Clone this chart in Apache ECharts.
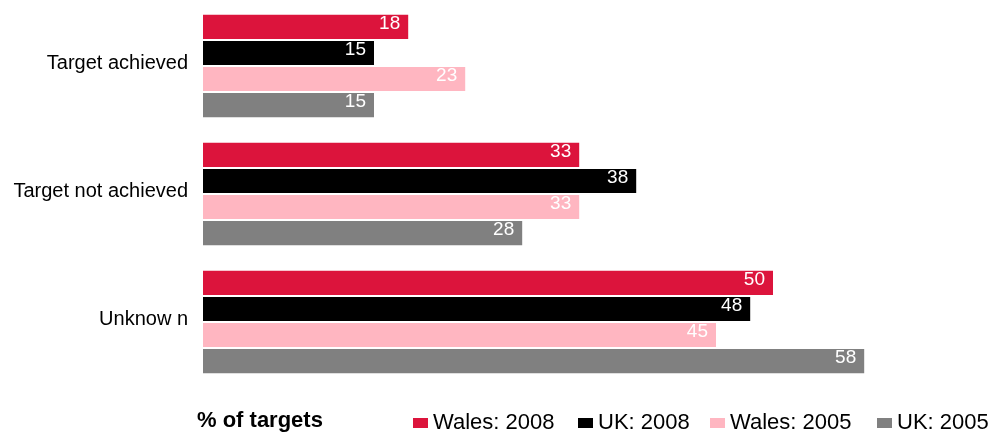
<!DOCTYPE html>
<html>
<head>
<meta charset="utf-8">
<script src="https://cdn.jsdelivr.net/npm/echarts@6/dist/echarts.min.js"></script>
<style>
  html, body { margin: 0; padding: 0; background: #fff; }
  #chart { width: 999px; height: 432px; }
</style>
</head>
<body>
<div id="chart"></div>
<script>
// Outcome categories (top to bottom)
const categories = ['Target achieved', 'Target not achieved', 'Unknow n'];

// Percentage of targets per outcome
const wales2008 = [18, 33, 50];
const uk2008 = [15, 38, 48];
const wales2005 = [23, 33, 45];
const uk2005 = [15, 28, 58];

const seriesNames = ['Wales: 2008', 'UK: 2008', 'Wales: 2005', 'UK: 2005'];
const seriesData = [wales2008, uk2008, wales2005, uk2005];
const seriesColors = ['#DC143C', '#000000', '#FFB6C1', '#808080'];

const FONT = 'Liberation Sans, Arial, sans-serif';

const chart = echarts.init(document.getElementById('chart'), null, { renderer: 'canvas' });

const series = seriesNames.map((name, i) => ({
  name: name,
  type: 'bar',
  data: seriesData[i],
  barGap: '8%',
  barCategoryGap: '20%',
  itemStyle: { color: seriesColors[i] },
  label: {
    show: true,
    position: 'insideTopRight',
    distance: 0,
    offset: [-8, -1],
    color: '#ffffff',
    fontFamily: FONT,
    fontSize: 19
  },
  emphasis: { disabled: true },
  animation: false
}));

// One legend block per series so each entry sits at its own spot
const legendLefts = [408, 573, 705, 872];
const legends = seriesNames.map((name, i) => ({
  data: [name],
  left: legendLefts[i],
  top: 407,
  itemWidth: 15,
  itemHeight: 10,
  itemGap: 6,
  icon: 'rect',
  selectedMode: false,
  textStyle: { fontFamily: FONT, fontSize: 22, color: '#000', padding: [0, 0, 0, 0] }
}));

chart.setOption({
  backgroundColor: '#ffffff',
  animation: false,
  title: {
    text: '% of targets',
    left: 192,
    top: 405,
    textStyle: { fontFamily: FONT, fontSize: 22, fontWeight: 'bold', color: '#000' }
  },
  legend: legends,
  grid: { left: 203, right: 112, top: 2, bottom: 46, containLabel: false },
  xAxis: {
    type: 'value',
    min: 0,
    max: 60,
    show: false
  },
  yAxis: {
    type: 'category',
    data: categories,
    inverse: true,
    axisLine: { show: false },
    axisTick: { show: false },
    splitLine: { show: false },
    axisLabel: {
      margin: 15,
      color: '#000',
      formatter: (v) => '{c|' + v + '}',
      rich: {
        c: {
          fontFamily: FONT,
          fontSize: 20,
          color: '#000',
          lineHeight: 20,
          padding: [0, 0, 6, 0]
        }
      }
    }
  },
  series: series
});
</script>
</body>
</html>
